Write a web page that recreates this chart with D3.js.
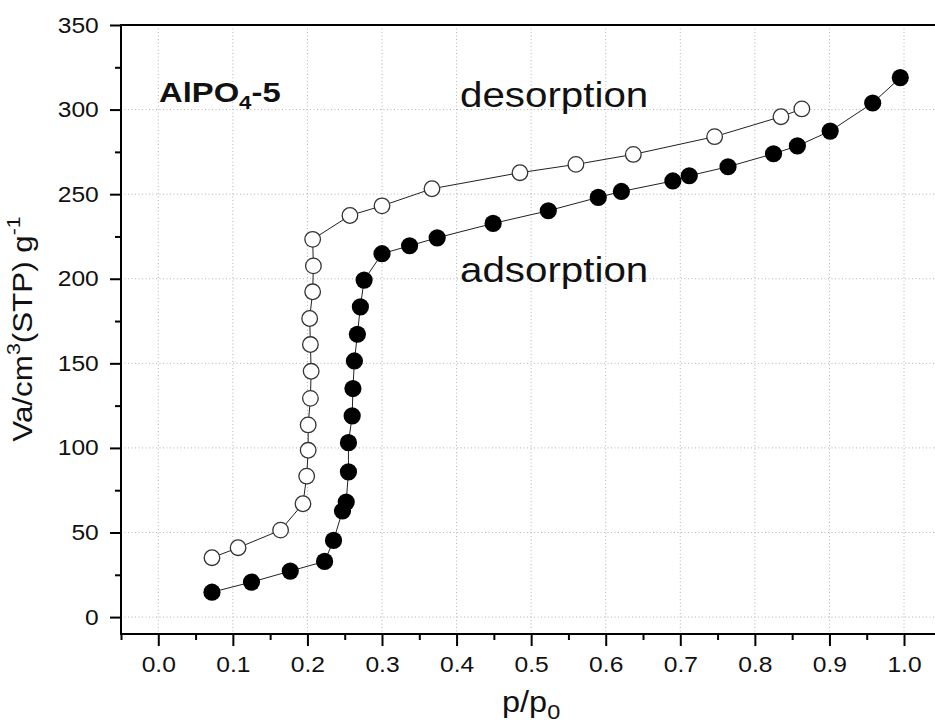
<!DOCTYPE html>
<html>
<head>
<meta charset="utf-8">
<script src="https://cdnjs.cloudflare.com/ajax/libs/d3/7.8.5/d3.min.js"></script>
<style>
  body { margin: 0; background: #fff; }
  svg { display: block; }
</style>
</head>
<body>
<div id="content"></div>
<script>
// isotherm data (p/p0, Va in cm3(STP)/g)
var adsP = [0.072, 0.125, 0.177, 0.223, 0.235, 0.247, 0.252, 0.255, 0.255, 0.260,
            0.261, 0.263, 0.267, 0.271, 0.276, 0.300, 0.337, 0.374, 0.449, 0.523,
            0.590, 0.621, 0.690, 0.712, 0.764, 0.825, 0.857, 0.901, 0.958, 0.995]
var adsV = [14.7, 20.7, 27.2, 32.9, 45.3, 62.7, 68.0, 85.8, 103.1, 118.9,
            135.1, 151.4, 167.2, 183.4, 199.2, 214.8, 219.5, 224.2, 232.7, 240.2,
            248.1, 251.6, 257.8, 260.9, 266.2, 273.9, 278.5, 287.3, 303.9, 318.9]

var desP = [0.863, 0.835, 0.746, 0.637, 0.560, 0.485, 0.367, 0.300, 0.257, 0.207,
            0.208, 0.207, 0.203, 0.204, 0.205, 0.204, 0.201, 0.201, 0.199, 0.194,
            0.164, 0.107, 0.072]
var desV = [300.4, 295.8, 284.0, 273.5, 267.6, 262.7, 253.2, 243.1, 237.4, 223.3,
            207.6, 192.3, 176.5, 161.1, 145.3, 129.3, 113.6, 98.6, 83.3, 67.0,
            51.4, 41.0, 35.1]

var xTicks = [0.0, 0.1, 0.2, 0.3, 0.4, 0.5, 0.6, 0.7, 0.8, 0.9, 1.0]
var xMinor = [-0.05, 0.05, 0.15, 0.25, 0.35, 0.45, 0.55, 0.65, 0.75, 0.85, 0.95]
var yTicks = [0, 50, 100, 150, 200, 250, 300, 350]
var yMinor = [25, 75, 125, 175, 225, 275, 325]

// chart size
var svgwidth = 935
var svgheight = 723
var margin = {top: 25, left: 121, bottom: 89}
var font = "'Liberation Sans', Arial, sans-serif"
var stretch = 1.12   // the original lettering is a little wider than Arial

var x = d3.scaleLinear().domain([-0.05, 1.05]).range([margin.left, 941.3])
var y = d3.scaleLinear().domain([-10, 350]).range([svgheight - margin.bottom, margin.top])

var svg = d3.select("#content").append("svg")
  .attr("width", svgwidth)
  .attr("height", svgheight)

var x0 = x.range()[0], yB = y.range()[0], yT = y.range()[1]

// dotted grid
svg.append("g").selectAll("line").data(xTicks).join("line")
  .attr("x1", d => x(d)).attr("x2", d => x(d))
  .attr("y1", yT).attr("y2", yB)
  .attr("stroke", "#b4b4b4").attr("stroke-width", 1)
  .attr("stroke-dasharray", "1,2.5")
svg.append("g").selectAll("line").data(yTicks.slice(0, -1)).join("line")
  .attr("x1", x0).attr("x2", svgwidth)
  .attr("y1", d => y(d)).attr("y2", d => y(d))
  .attr("stroke", "#b4b4b4").attr("stroke-width", 1)
  .attr("stroke-dasharray", "1,2.5")

// axes
var xAxis = svg.append("g")
  .attr("transform", "translate(0," + yB + ")")
  .call(d3.axisBottom(x).tickValues(xTicks).tickSize(12).tickPadding(10)
    .tickFormat(d3.format(".1f")))
svg.append("g")
  .attr("transform", "translate(0," + yB + ")")
  .call(d3.axisBottom(x).tickValues(xMinor).tickSize(6).tickFormat(""))
var yAxis = svg.append("g")
  .attr("transform", "translate(" + x0 + ",0)")
  .call(d3.axisLeft(y).tickValues(yTicks).tickSize(11).tickPadding(10))
svg.append("g")
  .attr("transform", "translate(" + x0 + ",0)")
  .call(d3.axisLeft(y).tickValues(yMinor).tickSize(6).tickFormat(""))

svg.selectAll(".domain").remove()
svg.selectAll(".tick line").attr("stroke", "#000").attr("stroke-width", 2)
svg.selectAll(".tick text")
  .attr("fill", "#111")
  .style("font-family", font)
  .style("font-size", "22px")
xAxis.selectAll(".tick text").attr("transform", "scale(" + stretch + ",1)")
yAxis.selectAll(".tick text").each(function() {
  // keep the right edge in place when stretching
  d3.select(this).attr("transform", "translate(-11,0) scale(" + stretch + ",1) translate(11,0)")
})

// axis frame: left, bottom and top lines
svg.append("line").attr("x1", x0).attr("x2", x0).attr("y1", yT - 1).attr("y2", yB + 1)
  .attr("stroke", "#000").attr("stroke-width", 2)
svg.append("line").attr("x1", x0 - 1).attr("x2", svgwidth).attr("y1", yB).attr("y2", yB)
  .attr("stroke", "#000").attr("stroke-width", 2)
svg.append("line").attr("x1", x0 - 1).attr("x2", svgwidth).attr("y1", yT).attr("y2", yT)
  .attr("stroke", "#000").attr("stroke-width", 2)

// lines joining the points
var line = d3.line().x(d => x(d[0])).y(d => y(d[1]))
var ads = d3.zip(adsP, adsV)
var des = d3.zip(desP, desV)
svg.append("path").datum(des).attr("d", line)
  .attr("fill", "none").attr("stroke", "#222").attr("stroke-width", 1)
svg.append("path").datum(ads).attr("d", line)
  .attr("fill", "none").attr("stroke", "#222").attr("stroke-width", 1)

// markers
svg.append("g").selectAll("circle").data(des).join("circle")
  .attr("cx", d => x(d[0])).attr("cy", d => y(d[1])).attr("r", 7.8)
  .attr("fill", "#fff").attr("stroke", "#333").attr("stroke-width", 1.3)
svg.append("g").selectAll("circle").data(ads).join("circle")
  .attr("cx", d => x(d[0])).attr("cy", d => y(d[1])).attr("r", 8.6)
  .attr("fill", "#000")

// text helper, parts = [[string, size, dy], ...]
function addText(px, py, parts, opts) {
  opts = opts || {}
  var t = svg.append("text")
    .attr("transform", "translate(" + px + "," + py + ")" + (opts.rotate ? " rotate(" + opts.rotate + ")" : "") + " scale(" + (opts.stretch || stretch) + ",1)")
    .attr("text-anchor", opts.anchor || "start")
    .attr("fill", "#111")
    .style("font-family", font)
    .style("font-weight", opts.bold ? "bold" : "normal")
  parts.forEach(function(p) {
    t.append("tspan").attr("dy", p[2]).style("font-size", p[1] + "px").text(p[0])
  })
  return t
}

// axis titles
addText(x(0.5), 712, [["p/p", 29, 0], ["0", 21, 7]], {anchor: "middle"})
addText(32, 329, [["Va/cm", 28, 0], ["3", 19, -12], ["(STP) g", 28, 12], ["-1", 19, -12]],
  {anchor: "middle", rotate: -90})

// labels inside the plot
addText(x(0.001), y(304.5), [["AlPO", 28, 0], ["4", 19, 7], ["-5", 28, -7]], {bold: true, stretch: 1.17})
addText(x(0.4046), y(301.7), [["desorption", 36, 0]])
addText(x(0.4046), y(198), [["adsorption", 36, 0]])
</script>
</body>
</html>
